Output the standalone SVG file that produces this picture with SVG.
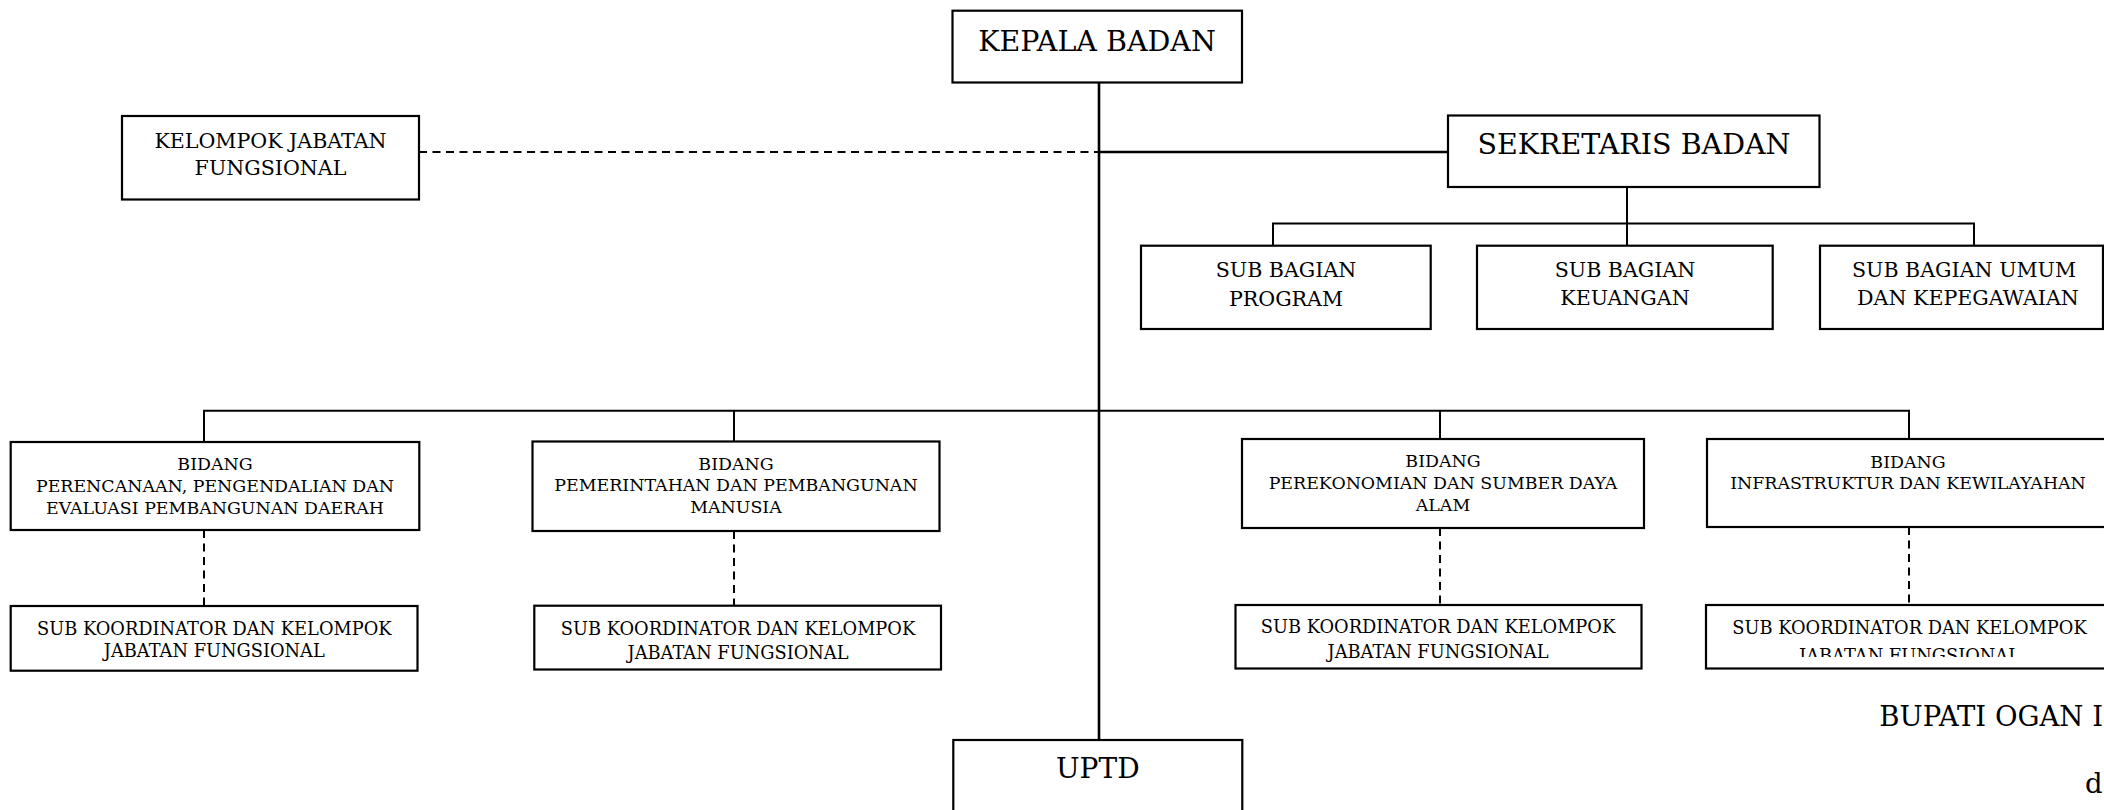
<svg xmlns="http://www.w3.org/2000/svg" width="2104" height="810" viewBox="0 0 2104 810">
<defs>
<style>
.box{fill:#fff;stroke:#000;stroke-width:2.2}
.ln{fill:none;stroke:#000;stroke-width:2}
.main{fill:none;stroke:#000;stroke-width:2.6}
.dash{fill:none;stroke:#000;stroke-width:2;stroke-dasharray:8 5.5}
text{font-family:"DejaVu Serif","Liberation Serif",serif;fill:#000;text-anchor:middle}
.t1{font-size:28.5px}
.t2{font-size:20.6px}
.t3{font-size:17.8px}
.tb{font-size:17.4px}
.free{text-anchor:start;font-size:27.5px}
</style>
<clipPath id="clip4"><rect x="1700" y="600" width="420" height="57"/></clipPath>
</defs>
<rect width="2104" height="810" fill="#fff"/>
<g id="connectors">
<line class="main" x1="1099" y1="82" x2="1099" y2="740"/>
<line class="dash" x1="419" y1="152" x2="1099" y2="152"/>
<line class="main" x1="1099" y1="152" x2="1448" y2="152"/>
<line class="ln" x1="1627" y1="187" x2="1627" y2="223.5"/>
<polyline class="ln" points="1273,246 1273,223.5 1974,223.5 1974,246"/>
<line class="ln" x1="1627" y1="223.5" x2="1627" y2="246"/>
<polyline class="ln" points="204,442 204,410.7 1909,410.7 1909,439"/>
<line class="ln" x1="734" y1="410.7" x2="734" y2="441.5"/>
<line class="ln" x1="1440" y1="410.7" x2="1440" y2="439"/>
<line class="dash" x1="204" y1="530" x2="204" y2="606"/>
<line class="dash" x1="734" y1="531" x2="734" y2="605.7"/>
<line class="dash" x1="1440" y1="528" x2="1440" y2="605"/>
<line class="dash" x1="1909" y1="527" x2="1909" y2="605"/>
</g>
<g id="kepala">
<rect class="box" x="952.5" y="10.7" width="289.5" height="71.8"/>
<text class="t1" x="1097" y="50.7">KEPALA BADAN</text>
</g>
<g id="kjf">
<rect class="box" x="122" y="116" width="297" height="83.5"/>
<text class="t2" x="270.5" y="147.7">KELOMPOK JABATAN</text>
<text class="t2" x="270.5" y="175.3">FUNGSIONAL</text>
</g>
<g id="sekretaris">
<rect class="box" x="1448" y="115.5" width="371.5" height="71.5"/>
<text class="t1" x="1634" y="154.3">SEKRETARIS BADAN</text>
</g>
<g id="sb-program">
<rect class="box" x="1141" y="245.7" width="289.7" height="83.3"/>
<text class="t2" x="1286" y="276.7">SUB BAGIAN</text>
<text class="t2" x="1286" y="305.5">PROGRAM</text>
</g>
<g id="sb-keuangan">
<rect class="box" x="1477" y="245.7" width="295.7" height="83.3"/>
<text class="t2" x="1625" y="276.7">SUB BAGIAN</text>
<text class="t2" x="1625" y="305.2">KEUANGAN</text>
</g>
<g id="sb-umum">
<rect class="box" x="1820" y="245.7" width="283" height="83.3"/>
<text class="t2" x="1964" y="276.7">SUB BAGIAN UMUM</text>
<text class="t2" x="1968" y="305.2">DAN KEPEGAWAIAN</text>
</g>
<g id="bidang1">
<rect class="box" x="10.7" y="442" width="408.6" height="88"/>
<text class="tb" x="215" y="470">BIDANG</text>
<text class="tb" x="215" y="491.7">PERENCANAAN, PENGENDALIAN DAN</text>
<text class="tb" x="215" y="514">EVALUASI PEMBANGUNAN DAERAH</text>
</g>
<g id="bidang2">
<rect class="box" x="532.5" y="441.5" width="407" height="89.5"/>
<text class="tb" x="736" y="470">BIDANG</text>
<text class="tb" x="736" y="491">PEMERINTAHAN DAN PEMBANGUNAN</text>
<text class="tb" x="736" y="513.3">MANUSIA</text>
</g>
<g id="bidang3">
<rect class="box" x="1242" y="439" width="402" height="89"/>
<text class="tb" x="1443" y="466.7">BIDANG</text>
<text class="tb" x="1443" y="489.3">PEREKONOMIAN DAN SUMBER DAYA</text>
<text class="tb" x="1443" y="510.7">ALAM</text>
</g>
<g id="bidang4">
<rect class="box" x="1707" y="439" width="403" height="88"/>
<text class="tb" x="1908" y="468.3">BIDANG</text>
<text class="tb" x="1908" y="489.3">INFRASTRUKTUR DAN KEWILAYAHAN</text>
</g>
<g id="subkoord1">
<rect class="box" x="10.7" y="606" width="406.8" height="64.7"/>
<text class="t3" x="214.3" y="635">SUB KOORDINATOR DAN KELOMPOK</text>
<text class="t3" x="214.3" y="656.7">JABATAN FUNGSIONAL</text>
</g>
<g id="subkoord2">
<rect class="box" x="534.3" y="605.7" width="406.7" height="63.8"/>
<text class="t3" x="738" y="635">SUB KOORDINATOR DAN KELOMPOK</text>
<text class="t3" x="738" y="659.3">JABATAN FUNGSIONAL</text>
</g>
<g id="subkoord3">
<rect class="box" x="1235.5" y="605" width="406" height="63.5"/>
<text class="t3" x="1438" y="633.3">SUB KOORDINATOR DAN KELOMPOK</text>
<text class="t3" x="1438" y="658.3">JABATAN FUNGSIONAL</text>
</g>
<g id="subkoord4">
<rect class="box" x="1706" y="605" width="406" height="63.5"/>
<text class="t3" x="1909.5" y="634">SUB KOORDINATOR DAN KELOMPOK</text>
<text class="t3" x="1909.5" y="662" clip-path="url(#clip4)">JABATAN FUNGSIONAL</text>
</g>
<g id="uptd">
<rect class="box" x="953.3" y="740" width="289" height="90"/>
<text class="t1" x="1097.8" y="778.3" style="font-size:28px">UPTD</text>
</g>
<g id="signature">
<text class="free" x="1879.3" y="726">BUPATI OGAN I</text>
<text class="free" x="2085" y="793">d</text>
</g>
</svg>
